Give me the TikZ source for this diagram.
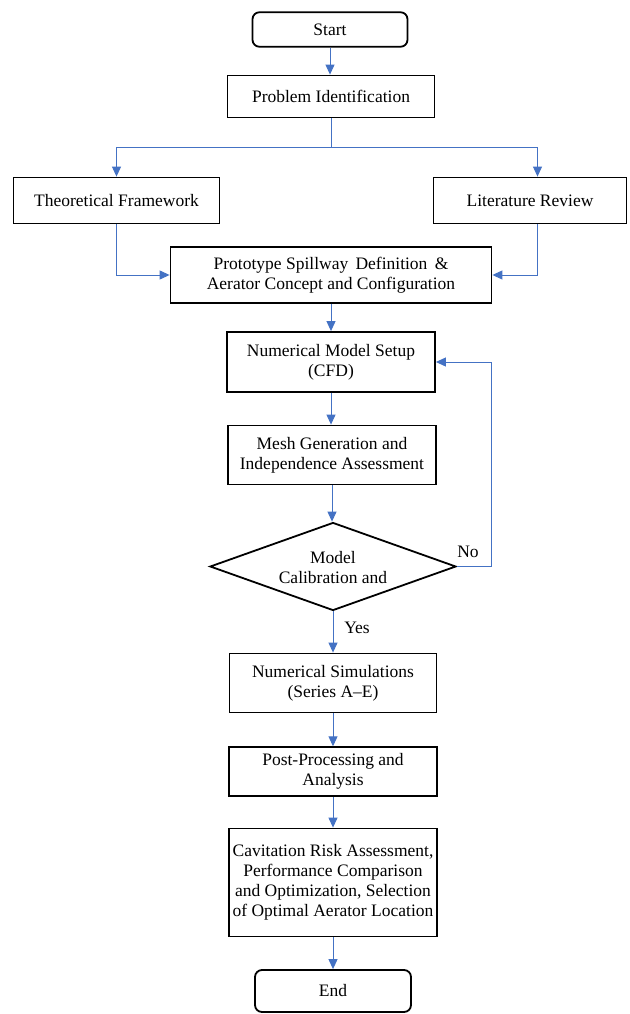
\documentclass[tikz,border=0pt]{standalone}
\usepackage{fontspec}
\setmainfont{Liberation Serif}
\usetikzlibrary{arrows.meta,shapes.geometric}
\definecolor{lnblue}{HTML}{4472C4}
\begin{document}
\begin{tikzpicture}[x=1pt,y=-1pt,
  every node/.style={font=\fontsize{17.5}{20}\selectfont, align=center, inner sep=0pt},
  procbox/.style={draw=black, line width=1.8pt, rectangle},
  termbox/.style={draw=black, line width=1.8pt, rectangle, rounded corners=7pt},
  decbox/.style={draw=black, line width=1.8pt, diamond, aspect=2.8},
  conn/.style={draw=lnblue, line width=1pt},
  arr/.style={conn, -{Triangle[length=10pt,width=9pt]}},
  lbl/.style={font=\fontsize{17.5}{20}\selectfont}
]
\useasboundingbox (0,0) rectangle (629,1014);

\node[termbox, minimum width=155pt, minimum height=34.5pt] (start) at (330,29.5) {Start};
\node[procbox, minimum width=207pt, minimum height=42pt] (pi) at (331,96.5) {Problem Identification};
\node[procbox, minimum width=206pt, minimum height=46pt] (tf) at (116.5,200.5) {Theoretical Framework};
\node[procbox, minimum width=193pt, minimum height=46pt] (lr) at (530,200.5) {Literature Review};
\node[procbox, minimum width=321pt, minimum height=56pt] (proto) at (331,275) {Prototype Spillway\, Definition\, \&\\Aerator Concept and Configuration};
\node[procbox, minimum width=208pt, minimum height=60pt] (nms) at (331,362) {Numerical Model Setup\\(CFD)};
\node[procbox, minimum width=208pt, minimum height=59pt] (mesh) at (332,455) {Mesh Generation and\\Independence Assessment};
\node[decbox, minimum width=246pt, minimum height=88pt] (dec) at (333,566.5) {};
\node at (333,568) {Model\\Calibration and};
\node[procbox, minimum width=207pt, minimum height=59pt] (sim) at (333,683) {Numerical Simulations\\(Series A--E)};
\node[procbox, minimum width=208pt, minimum height=49pt] (post) at (333,771.7) {Post-Processing and\\Analysis};
\node[procbox, minimum width=208pt, minimum height=108pt] (cav) at (333,882.5) {Cavitation Risk Assessment,\\Performance Comparison\\and Optimization, Selection\\of Optimal Aerator Location};
\node[termbox, minimum width=156pt, minimum height=42pt] (end) at (333,991) {End};

\coordinate (br) at (331,147);
\coordinate (lp) at (491,566.5);

\draw[arr] (start.south) -- (start.south |- pi.north);
\draw[conn] (pi.south) -- (br);
\draw[arr] (br) -| (tf.north);
\draw[arr] (br) -| ([xshift=7.5pt]lr.north);
\draw[arr] (tf.south) |- (proto.west);
\draw[arr] ([xshift=7.5pt]lr.south) |- (proto.east);
\draw[arr] (proto.south) -- (proto.south |- nms.north);
\draw[arr] (nms.south) -- (nms.south |- mesh.north);
\draw[arr] (mesh.south) -- (mesh.south |- dec.north);
\draw[arr] (dec.south) -- (dec.south |- sim.north);
\draw[arr] (sim.south) -- (post.north);
\draw[arr] (post.south) -- (cav.north);
\draw[arr] (cav.south) -- (end.north);
\draw[arr] (dec.east) -- (lp) |- (nms.east);

\node[lbl] (no) at (468,552) {No};
\node[lbl] (yes) at (357,628) {Yes};
\end{tikzpicture}
\end{document}
